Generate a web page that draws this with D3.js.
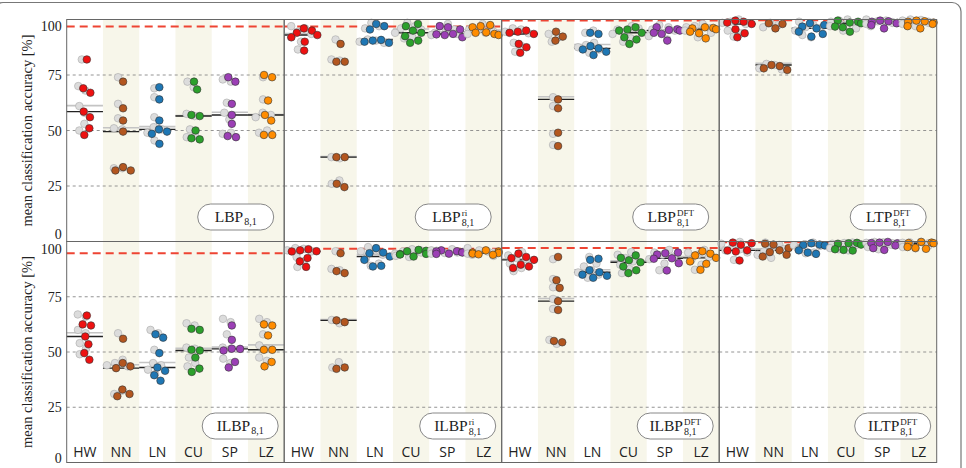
<!DOCTYPE html>
<html>
<head>
<meta charset="UTF-8">
<title>Accuracy</title>
<script src="https://cdn.jsdelivr.net/npm/d3@7/dist/d3.min.js"></script>
<style>
body { margin: 0; background: #fff; }
svg { display: block; }
.tick text { font: 14px "Liberation Serif", serif; fill: #222; }
.cat { font: 14px "Open Sans", sans-serif; fill: #222; text-anchor: middle; }
.ytitle { font: 14.5px "Liberation Serif", serif; fill: #222; text-anchor: middle; }
.leg { font-family: "Liberation Serif", serif; fill: #222; }
</style>
</head>
<body>
<svg id="chart" width="966" height="468"></svg>
<script>
// categories and colours
var categories = ["HW", "NN", "LN", "CU", "SP", "LZ"];
var catColors  = ["#ee1111", "#b3561f", "#1f77b4", "#2ca02c", "#9b3fb5", "#ff8c00"];
var ticks      = [0, 25, 50, 75, 100];
var yTitle     = "mean classification accuracy [%]";

// legend labels (base, superscript), subscript is always 8,1
var labelBase = ["LBP", "LBP", "LBP", "LTP", "ILBP", "ILBP", "ILBP", "ILTP"];
var labelSup  = ["", "ri", "DFT", "DFT", "", "ri", "DFT", "DFT"];
var labelSub  = "8,1";

// red dashed reference line per panel
var refTop    = [96.8, 96.8, 99.6, 99.7];
var refBottom = [94.7, 96.7, 97.1, 99.7];

// ---- top row ----
var lbp = [
  [82, 69, 67, 58.5, 56, 51, 48],
  [72, 60, 54.5, 49.5, 33.5, 32, 32],
  [69.5, 64, 54.5, 50.5, 49.5, 48.5, 44],
  [72, 68.5, 57, 56.5, 50, 46.5, 46],
  [74, 72, 62, 57, 53, 47.5, 47],
  [75, 74, 63.5, 57, 54.5, 48, 48]
];
var lbpGray = [
  [82, 70, 68, 61, 58, 53, 50],
  [74, 62, 55.5, 51, 50.5, 33, 33],
  [69, 65, 56, 51.5, 50.5, 45.5, 49],
  [72, 69.5, 57.5, 56.5, 50.5, 47.5, 47],
  [73, 72, 62.5, 58, 55, 49, 48.5],
  [74, 64, 58, 57, 56, 50, 49]
];
var lbpRi = [
  [96, 95, 94, 93, 92, 90, 86],
  [89, 81, 81, 38, 38, 26, 24.5],
  [98, 97, 95.5, 90.8, 90.5, 90, 89.5],
  [98, 97, 95, 94, 92.5, 90.5, 89.5],
  [97, 96.5, 95.5, 93.5, 93.3, 93, 92],
  [97.5, 97, 96.5, 94.2, 94, 93.5, 93]
];
var lbpRiGray = [
  [97, 96, 94.5, 93.5, 92, 90, 86.5],
  [91, 82, 81.5, 38, 37.5, 27.5, 26],
  [98.5, 97, 96, 91, 90.5, 90, 89.5],
  [98.5, 97, 96, 95.5, 94, 92, 91.5],
  [98, 97, 95.5, 94.2, 94, 93.5, 93],
  [98, 97, 95.5, 95, 94.5, 94, 93.5]
];
var lbpDft = [
  [95, 94.5, 94, 93.5, 89, 87.5, 85],
  [94.5, 92.3, 90.5, 64, 60, 49, 43],
  [94, 93.5, 88, 87, 86.5, 85.5, 84],
  [96.5, 95.5, 95, 94, 92, 91, 89],
  [96.5, 95.6, 95.3, 95, 94, 93.5, 90.5],
  [96.5, 96.2, 96, 95.6, 94.5, 93.8, 91.5]
];
var lbpDftGray = [
  [96, 95.5, 94.5, 93.8, 89.5, 88, 85.5],
  [93.5, 92, 90, 65, 61, 48.5, 43.5],
  [95, 94, 89.5, 88.5, 87.5, 86.5, 85],
  [97, 96, 95.5, 94.5, 93.5, 91.5, 90],
  [97.5, 96.5, 95.5, 95, 94, 92.5, 91],
  [98, 97, 96.5, 96, 95, 94, 92]
];
var ltpDft = [
  [99.5, 99, 98.6, 98, 95.6, 93.8, 92],
  [98.3, 98, 96, 79.5, 79, 78, 77.3],
  [98.3, 97.5, 96.8, 96, 94.5, 93.5, 92.3],
  [99.5, 99, 98.6, 98.3, 96.8, 96.5, 94.5],
  [99.5, 99.2, 99, 98.5, 98.3, 97.5, 96],
  [99.5, 99.2, 99, 98.6, 98, 97, 96]
];
var ltpDftGray = [
  [100, 99, 98.5, 98, 95, 93.8, 92.3],
  [98.5, 97.5, 96.5, 80, 79.5, 78, 77.5],
  [99, 97.5, 96.5, 96, 95, 93, 92],
  [100, 99.5, 99, 98.5, 97, 96, 95],
  [100, 99.5, 99.2, 98.8, 98.5, 98, 97],
  [100, 99.8, 99.5, 99, 98.5, 98, 97]
];

// ---- bottom row ----
var ilbp = [
  [66.5, 62.5, 62, 57, 53.5, 49.5, 46.5],
  [56, 45, 43.5, 42.7, 33, 31, 30],
  [58, 56.5, 49.5, 43, 41.5, 39.5, 37],
  [60.5, 60, 51, 50.7, 47.5, 42.5, 41],
  [62, 55.5, 51.5, 51.4, 50.7, 45.5, 43],
  [62.5, 62, 57.5, 51, 51, 45.5, 43.5]
];
var ilbpGray = [
  [67, 66, 60, 58.5, 54, 51.5, 49],
  [58.5, 46.5, 45, 44, 43.5, 32.5, 31],
  [60, 58.5, 51, 45, 44, 42, 40],
  [63, 62, 52, 51.5, 47.5, 45, 43.5],
  [65, 63.5, 58, 52, 51.5, 47, 45],
  [65, 63.5, 58, 53, 51.5, 47.5, 46]
];
var ilbpRi = [
  [96.5, 96, 95.6, 95.5, 92.5, 91, 88.5],
  [94.7, 86.6, 85.7, 64.3, 63.5, 43, 42.4],
  [97, 95, 94.7, 93.2, 91.7, 89, 88.7],
  [96.2, 95.8, 95.6, 94.4, 94.3, 94.1, 93.2],
  [96, 95.6, 95.5, 95.2, 95, 94.5, 94.4],
  [96, 95.5, 95, 94.8, 94.5, 94.2, 94]
];
var ilbpRiGray = [
  [97, 96.7, 96, 95.5, 93, 91, 88.5],
  [95.6, 87.6, 87, 64.5, 63, 45.4, 43],
  [97.5, 96, 95.6, 94, 92, 90, 89],
  [96.5, 96, 95.5, 95, 94.5, 93.5, 93],
  [96.5, 96, 95.8, 95.5, 95, 94.8, 94.5],
  [97, 96, 95.5, 95, 94.5, 94, 93.5]
];
var ilbpDft = [
  [94.5, 93, 92.5, 91.7, 89.5, 88.7, 88],
  [93, 82.5, 79, 73, 69, 55, 54.4],
  [92.2, 91.7, 87, 86.1, 85, 84.5, 83.6],
  [93.7, 92.6, 91.5, 90.6, 88.7, 87, 85.7],
  [95, 94.7, 94.1, 92.4, 92.2, 90.2, 86.9],
  [95.6, 94.5, 93.7, 92.6, 91, 89.9, 87.2]
];
var ilbpDftGray = [
  [95.2, 93.7, 92.5, 92, 90, 88, 86.6],
  [92, 83, 79.3, 74, 69.5, 55.5, 53.7],
  [93, 90, 88.7, 87, 86, 85, 83.6],
  [95.2, 94, 92.5, 91, 89.5, 87.5, 85.7],
  [96.2, 95, 94, 93, 92, 90, 87],
  [96.2, 95, 94, 93, 91.5, 89.5, 87.2]
];
var iltpDft = [
  [99.5, 99.2, 98.5, 96, 95.9, 95.5, 91.4],
  [99, 98.6, 97, 96, 95.2, 94, 93.2],
  [99.2, 98.6, 98.4, 98.2, 96, 95, 94.4],
  [99.4, 99.2, 99, 98.6, 96.5, 96.2, 95.9],
  [99.8, 99.5, 99.3, 99.2, 98.2, 97, 96.2],
  [99.8, 99.5, 99.3, 99.2, 97.5, 97.1, 96.7]
];
var iltpDftGray = [
  [99.8, 99, 98, 96.5, 96, 95, 91.7],
  [99.5, 98.5, 97, 96.5, 95.5, 94, 92.6],
  [99.5, 98.8, 98.3, 98, 96.5, 95, 94.7],
  [99.5, 99.3, 99, 98.5, 97, 96.5, 96],
  [99.8, 99.6, 99.4, 99.2, 98.5, 97.5, 96.5],
  [99.8, 99.6, 99.4, 99.2, 98, 97.5, 96.9]
];

var rows = [
  { color: [lbp, lbpRi, lbpDft, ltpDft], gray: [lbpGray, lbpRiGray, lbpDftGray, ltpDftGray], ref: refTop },
  { color: [ilbp, ilbpRi, ilbpDft, iltpDft], gray: [ilbpGray, ilbpRiGray, ilbpDftGray, iltpDftGray], ref: refBottom }
];

var svg = d3.select("#chart");
var R = 3.8;

// outer frame
svg.append("rect")
  .attr("x", -6).attr("y", 2.5).attr("width", 967).attr("height", 480)
  .attr("rx", 9).attr("fill", "none").attr("stroke", "#777").attr("stroke-width", 1.2);

var panelX = d3.scaleBand().domain(d3.range(4)).range([66.7, 936.7]);
var rowY = [[19.5, 241.5], [241.5, 462.5]];
var labelNudge = [[6, -8], [7, -5]];   // 100 label, 0 label
var legendRight = [10.5, 6];
var legendTop = [204, 413];

// spread points sideways so they do not hide each other
function swarm(values, cx, yScale) {
  var nodes = values.map(function (v) { return { v: v, fy: yScale(v), x: cx }; });
  var sim = d3.forceSimulation(nodes)
    .force("x", d3.forceX(cx).strength(0.04))
    .force("c", d3.forceCollide(R * 1.1))
    .stop();
  for (var k = 0; k < 250; k++) sim.tick();
  nodes.forEach(function (d) { d.x = Math.max(cx - 13, Math.min(cx + 13, d.x)); });
  return nodes;
}

rows.forEach(function (row, r) {
  var y = d3.scaleLinear().domain([0, 100]).range([rowY[r][1], rowY[r][0]]);
  var top = rowY[r][0], bottom = rowY[r][1];

  row.color.forEach(function (data, p) {
    var x0 = panelX(p), bw = panelX.bandwidth();
    var xc = d3.scaleBand().domain(categories).range([x0, x0 + bw]);
    var g = svg.append("g");

    // stripes
    g.selectAll(".stripe")
      .data(categories.filter(function (c, i) { return i % 2 === 1; }))
      .enter().append("rect")
      .attr("x", function (c) { return xc(c); })
      .attr("y", top)
      .attr("width", xc.bandwidth())
      .attr("height", bottom - top)
      .attr("fill", "#f7f6ea");

    // grid
    g.selectAll(".grid")
      .data([25, 50, 75])
      .enter().append("line")
      .attr("x1", x0).attr("x2", x0 + bw)
      .attr("y1", function (d) { return y(d); })
      .attr("y2", function (d) { return y(d); })
      .attr("stroke", "#888").attr("stroke-width", 0.9)
      .attr("stroke-dasharray", "3,3");

    // reference
    g.append("line")
      .attr("x1", x0).attr("x2", x0 + bw)
      .attr("y1", y(row.ref[p])).attr("y2", y(row.ref[p]))
      .attr("stroke", "#ee4433").attr("stroke-width", 2)
      .attr("stroke-dasharray", "8,5");

    categories.forEach(function (c, ci) {
      var cx = xc(c) + xc.bandwidth() / 2;
      var gv = row.gray[p][ci], cv = data[ci];

      // median lines
      g.append("line")
        .attr("x1", xc(c)).attr("x2", xc(c) + xc.bandwidth())
        .attr("y1", y(d3.median(gv)) - 0.5).attr("y2", y(d3.median(gv)) - 0.5)
        .attr("stroke", "#c4c4c4").attr("stroke-width", 1.6);
      g.append("line")
        .attr("x1", xc(c)).attr("x2", xc(c) + xc.bandwidth())
        .attr("y1", y(d3.median(cv))).attr("y2", y(d3.median(cv)))
        .attr("stroke", "#222").attr("stroke-width", 1.4);

      g.selectAll(null)
        .data(swarm(gv, cx - 3, y))
        .enter().append("circle")
        .attr("cx", function (d) { return d.x; })
        .attr("cy", function (d) { return d.fy; })
        .attr("r", R)
        .attr("fill", "#dcdcdc").attr("stroke", "#aaa").attr("stroke-width", 0.6);

      g.selectAll(null)
        .data(swarm(cv, cx + 2, y))
        .enter().append("circle")
        .attr("cx", function (d) { return d.x; })
        .attr("cy", function (d) { return d.fy; })
        .attr("r", R)
        .attr("fill", catColors[ci]).attr("stroke", "#333").attr("stroke-width", 0.6);
    });

    // panel border
    g.append("rect")
      .attr("x", x0).attr("y", top).attr("width", bw).attr("height", bottom - top)
      .attr("fill", "none").attr("stroke", "#666").attr("stroke-width", 1);

    // legend box
    var idx = r * 4 + p;
    var lg = g.append("g")
      .attr("transform", "translate(" + (x0 + bw - legendRight[r] - 76) + "," + legendTop[r] + ")");
    lg.append("rect").attr("width", 76).attr("height", 26).attr("rx", 13)
      .attr("fill", "#fff").attr("stroke", "#888").attr("stroke-width", 1);
    var tg = lg.append("g");
    var base = tg.append("text").attr("class", "leg").attr("font-size", 15.5).attr("y", 18).text(labelBase[idx]);
    var bwid = base.node().getComputedTextLength();
    var sub = tg.append("text").attr("class", "leg").attr("font-size", 10)
      .attr("x", bwid + 1).attr("y", labelSup[idx] ? 22 : 21).text(labelSub);
    var extra = sub.node().getComputedTextLength();
    if (labelSup[idx]) {
      var sup = tg.append("text").attr("class", "leg").attr("font-size", 9)
        .attr("x", bwid + 1).attr("y", 12).text(labelSup[idx]);
      extra = Math.max(extra, sup.node().getComputedTextLength());
    }
    tg.attr("transform", "translate(" + ((76 - bwid - 1 - extra) / 2) + ",0)");

    // category labels on bottom row
    if (r === 1) {
      g.selectAll(".cat")
        .data(categories)
        .enter().append("text")
        .attr("class", "cat")
        .attr("x", function (c) { return xc(c) + xc.bandwidth() / 2; })
        .attr("y", 457)
        .text(function (c) { return c; });
    }
  });

  // y axis
  var ax = svg.append("g")
    .attr("transform", "translate(66.7,0)")
    .call(d3.axisLeft(y).tickValues(ticks).tickSize(0).tickPadding(5));
  ax.select(".domain").remove();
  ax.selectAll(".tick text").attr("font-size", null).attr("font-family", null)
    .attr("dy", function (d) {
      var n = d === 100 ? labelNudge[r][0] : (d === 0 ? labelNudge[r][1] : 0);
      return (n + 4.5) + "px";
    });

  svg.append("text")
    .attr("class", "ytitle")
    .attr("transform", "translate(32," + ((top + bottom) / 2) + ") rotate(-90)")
    .text(yTitle);
});
</script>
</body>
</html>
